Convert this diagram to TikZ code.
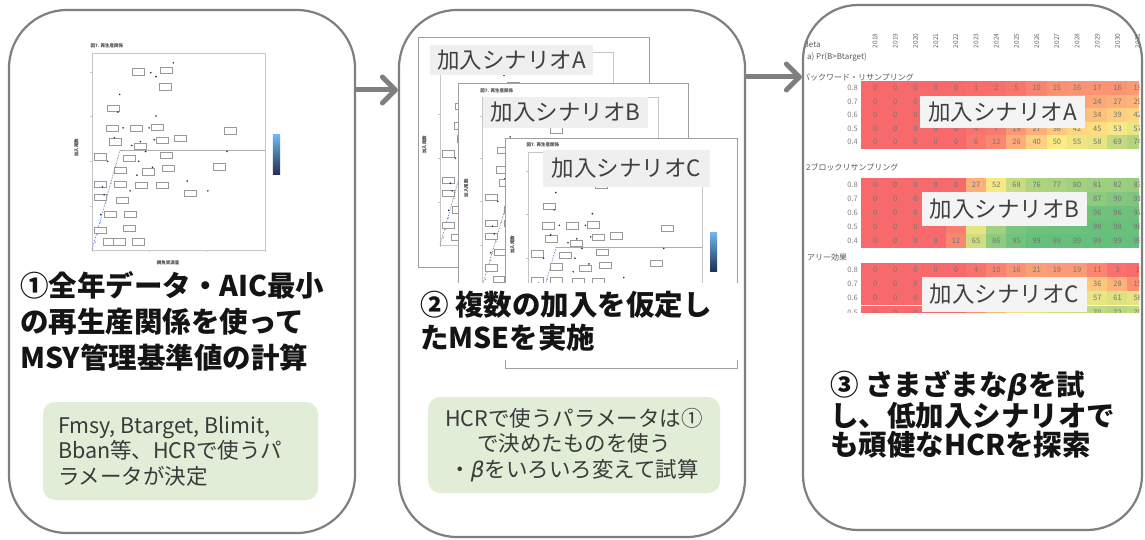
\documentclass[tikz,border=0pt]{standalone}
\usepackage{fontspec}
\setmainfont{Noto Sans CJK JP}
\newfontfamily\dejavu{DejaVu Sans}
\usetikzlibrary{arrows.meta}
\definecolor{pborder}{HTML}{7F7F7F}
\definecolor{greenbox}{HTML}{E2EDD8}
\definecolor{redc}{HTML}{F8696B}
\definecolor{yelc}{HTML}{FFEB84}
\definecolor{grnc}{HTML}{63BE7B}
\definecolor{navy}{HTML}{1F2F4F}
\definecolor{cbtop}{HTML}{6FB6F0}
\definecolor{txtgray}{HTML}{3A3A3A}
\definecolor{lblfillA}{HTML}{EFEFEF}
\definecolor{lblfillB}{HTML}{F4F4F4}

% stock-recruitment plot graphics (frame at #1,#2, size #3 x #4)
\newcommand{\srplot}[4]{%
\begin{scope}[shift={(#1,#2)},x=#3pt,y=-#4pt]
 \draw[plotframe] (0,0) rectangle (1,1);
 \foreach \t in {0.1,0.32,0.55,0.78} \draw[plotframe] (0,\t) -- (-0.012,\t);
 \foreach \t in {0,0.33,0.66,1} \draw[plotframe] (\t,1) -- (\t,1.012);
 \draw[hline] (0.162,0.492) -- (1,0.492);
 \draw[srline] (0,1) -- (0.162,0.492);
 \foreach \px/\py in {0.264/0.095,0.428/0.086,0.422/0.171,0.123/0.281,0.114/0.382,0.254/0.382,0.374/0.377,0.403/0.442,0.509/0.433,0.133/0.450,0.277/0.472,0.428/0.518,0.050/0.526,0.216/0.534,0.441/0.585,0.162/0.594,0.326/0.602,0.736/0.577,0.801/0.394,0.050/0.665,0.162/0.665,0.287/0.670,0.403/0.670,0.566/0.712,0.050/0.733,0.172/0.746,0.104/0.817,0.220/0.817,0.050/0.898,0.216/0.890,0.100/0.958,0.158/0.958,0.268/0.958}
   \draw[lbox] (\px,\py) ++(-6pt,-3.2pt) rectangle ++(12pt,6.4pt);
 \foreach \px/\py in {0.47/0.05,0.37/0.12,0.34/0.10,0.16/0.21,0.15/0.30,0.33/0.38,0.37/0.32,0.36/0.44,0.31/0.50,0.28/0.45,0.18/0.38,0.13/0.43,0.23/0.47,0.27/0.55,0.35/0.58,0.26/0.62,0.22/0.70,0.67/0.70,0.55/0.65,0.78/0.50,0.09/0.55,0.06/0.68,0.07/0.72,0.05/0.82}
   \fill[navy] (\px,\py) circle (0.9pt);
 \foreach \px/\py in {0.03/0.92,0.05/0.86,0.08/0.76,0.11/0.66,0.02/0.96}
   \fill[cbtop] (\px,\py) circle (0.8pt);
 \shade[top color=cbtop, bottom color=navy] (1.046,0.416) rectangle (1.087,0.619);
\end{scope}}

% heat-map row: #1 y centre, #2 label, #3 values, #4 = 1 hides numbers under a label box
\newcommand{\hrow}[4]{%
 \node[rowlbl, anchor=east] at (858,#1) {#2};
 \fill[fill=redc] (861,#1-\rh/2) rectangle (865.2,#1+\rh/2);
 \foreach \v [count=\k from 0] in {#3} {
   \pgfmathsetmacro\xl{865+20.2*\k}
   \ifnum\v<50\relax\pgfmathtruncatemacro\p{2*\v}\edef\cc{yelc!\p!redc}\else\pgfmathtruncatemacro\p{2*(\v-50)}\edef\cc{grnc!\p!yelc}\fi
   \fill[fill=\cc] (\xl-0.2,#1-\rh/2) rectangle (\xl+20.4,#1+\rh/2);
   \pgfmathtruncatemacro\hide{and(#4==1,and(\k>2,\k<11))}
   \ifnum\hide=0\relax\node[cellnum] at (\xl+10.1,#1) {\v};\fi
 }}

\begin{document}
\begin{tikzpicture}[x=1pt,y=-1pt,
  panel/.style={draw=pborder, line width=2.2pt, rounded corners=58pt, fill=white, inner sep=0pt},
  arr/.style={draw=pborder, line width=5pt, -{Straight Barb[length=13pt,width=26pt,round]}},
  ttl/.style={font=\fontsize{28.5}{#1}\selectfont\bfseries, align=left, inner sep=0pt, text=black!92, anchor=west},
  gbox/.style={fill=greenbox, rounded corners=12pt, inner sep=0pt},
  gtext/.style={font=\fontsize{21.5}{25.5}\selectfont, text=txtgray, inner sep=0pt},
  plotframe/.style={draw=gray!45, line width=0.5pt},
  hline/.style={draw=gray!65, line width=0.6pt},
  srline/.style={draw=blue!45!gray, line width=0.6pt, densely dotted},
  lbox/.style={draw=gray!80, line width=0.35pt, fill=white},
  ptitle/.style={font=\fontsize{4.5}{5}\selectfont\bfseries, text=black!70, inner sep=0pt},
  imgborder/.style={draw=gray!75, line width=0.8pt, fill=white},
  lbl/.style={font=\fontsize{22.5}{23}\selectfont, text=black!75, inner sep=0pt},
  rowlbl/.style={font=\fontsize{7.5}{8}\selectfont, text=black!50, inner sep=0pt},
  cellnum/.style={font=\fontsize{7.5}{8}\selectfont, text=black!55, inner sep=0pt},
  hdr/.style={font=\fontsize{8}{9}\selectfont, text=black!65, inner sep=0pt, anchor=west},
  yrlbl/.style={font=\fontsize{6.5}{7}\selectfont, text=black!60, inner sep=0pt}
]
\useasboundingbox (0,0) rectangle (1145,540);
\fill[white] (0,0) rectangle (1145,540);

% ---------- panels ----------
\node[panel, minimum width=346pt, minimum height=523pt] (p1) at (182,271.5) {};
\node[panel, minimum width=346pt, minimum height=527pt] (p2) at (572,273.5) {};
\node[panel, minimum width=339pt, minimum height=525pt, rounded corners=55pt] (p3) at (972.5,267.5) {};

% ---------- arrows ----------
\coordinate (a1) at (0,90);
\coordinate (a2) at (0,77);
\draw[arr] (p1.east |- a1) -- (p2.west |- a1);
\draw[arr] (p2.east |- a2) -- (p3.west |- a2);

% ---------- panel 1 ----------
\srplot{92}{53}{173}{197}
\node[ptitle, anchor=west] (q1t) at (90.3,46.1) {図7. 再生産関係};
\node[ptitle, rotate=90] (q1y) at (76.4,147.6) {加入尾数};
\node[ptitle] (q1x) at (168.1,262.8) {親魚資源量};
\node[ttl=36] (t1) at (20,321) {①全年データ・AIC最小\\の再生産関係を使って\\MSY管理基準値の計算};
\node[gbox, minimum width=275pt, minimum height=98pt] (g1) at (180.5,451) {};
\node[gtext, align=left, anchor=west] (g1t) at ([xshift=15pt]g1.west) {Fmsy, Btarget, Blimit,\\Bban等、HCRで使うパ\\ラメータが決定};

% ---------- panel 2 ----------
\draw[imgborder] (418,37) rectangle (649,267);
\srplot{440}{52}{173}{193}
\node[ptitle, rotate=90] (qay) at (424.4,144.6) {加入尾数};
\node[lbl, fill=lblfillA, minimum width=163pt, minimum height=30pt] (la2) at (511.5,60) {加入シナリオA};
\draw[imgborder] (458,83) rectangle (688,315);
\srplot{482}{97}{176}{190}
\node[ptitle, anchor=west] (qbt) at (480.2,90.3) {図7. 再生産関係};
\node[ptitle, rotate=90] (qby) at (466.2,188.2) {加入尾数};
\node[lbl, fill=lblfillA, minimum width=165pt, minimum height=31pt] (lb2) at (565.5,112.5) {加入シナリオB};
\draw[imgborder] (505,138) rectangle (737,368);
\srplot{528}{152}{174}{193}
\node[ptitle, anchor=west] (qct) at (526.3,145.2) {図7. 再生産関係};
\node[ptitle, rotate=90] (qcy) at (512.3,244.6) {加入尾数};
\node[lbl, fill=lblfillA, minimum width=167pt, minimum height=37pt] (lc2) at (626.5,168.5) {加入シナリオC};
\fill[white] (412,283) rectangle (742,360);
\node[ttl=33] (t2) at (420,321.5) {② 複数の加入を仮定し\\たMSEを実施};
\node[gbox, minimum width=292pt, minimum height=96pt] (g2) at (574,445) {};
\node[gtext, align=center] (g2t) at (g2.center) {HCRで使うパラメータは①\\で決めたものを使う\\・{\dejavu\itshape β}をいろいろ変えて試算};

% ---------- panel 3 ----------
\begin{scope}
\clip (806,22) rectangle (1139,312);
\node[hdr] (h0) at (803.5,45) {Beta};
\foreach \yr [count=\k from 0] in {2018,2019,2020,2021,2022,2023,2024,2025,2026,2027,2028,2029,2030,2031}
  \node[yrlbl, rotate=90] at (875.1+20.2*\k,41) {\yr};
\node[hdr] (h1) at (807,57) {a) Pr(B>Btarget)};
\node[hdr] (h2) at (802,77) {バックワード・リサンプリング};
\def\rh{13.5}
\hrow{88}{0.8}{0,0,0,0,0,1,2,5,10,15,16,17,16,19}{0}
\hrow{101.5}{0.7}{0,0,0,0,0,2,4,8,14,19,22,24,27,29}{1}
\hrow{115}{0.6}{0,0,0,0,0,3,6,12,20,27,31,34,39,42}{1}
\hrow{128.5}{0.5}{0,0,0,0,0,4,7,18,27,36,42,45,53,57}{0}
\hrow{142}{0.4}{0,0,0,0,0,6,12,26,40,50,55,58,69,74}{0}
\node[hdr] (h3) at (806,167) {2ブロックリサンプリング};
\def\rh{14}
\hrow{185}{0.8}{0,0,0,0,0,27,52,68,76,77,80,81,82,83}{0}
\hrow{199}{0.7}{0,0,0,0,2,40,62,76,82,84,86,87,90,91}{1}
\hrow{213}{0.6}{0,0,0,0,5,50,72,86,90,92,94,96,96,97}{1}
\hrow{227}{0.5}{0,0,0,0,8,58,80,92,96,97,97,98,98,98}{1}
\hrow{241}{0.4}{0,0,0,0,12,65,86,95,99,99,99,99,99,99}{0}
\node[hdr] (h4) at (807,257) {アリー効果};
\hrow{270}{0.8}{0,0,0,0,0,4,10,16,21,19,19,11,3,1}{0}
\hrow{284}{0.7}{0,0,0,0,0,8,18,28,36,38,38,36,28,15}{1}
\hrow{298}{0.6}{0,0,0,0,0,12,26,40,50,55,57,57,61,58}{1}
\hrow{313}{0.5}{0,0,0,0,0,14,30,45,58,65,68,70,72,70}{1}
\node[lbl, fill=lblfillB, minimum width=165pt, minimum height=32pt] (la3) at (1002.5,112) {加入シナリオA};
\node[lbl, fill=lblfillB, minimum width=165pt, minimum height=34pt] (lb3) at (1004.5,209) {加入シナリオB};
\node[lbl, fill=lblfillB, minimum width=165pt, minimum height=35pt] (lc3) at (1004.5,294.5) {加入シナリオC};
\end{scope}
\node[ttl=29] (t3) at (830,414) {③ さまざまな{\dejavu\bfseries\itshape β}を試\\し、低加入シナリオで\\も頑健なHCRを探索};
\end{tikzpicture}
\end{document}
